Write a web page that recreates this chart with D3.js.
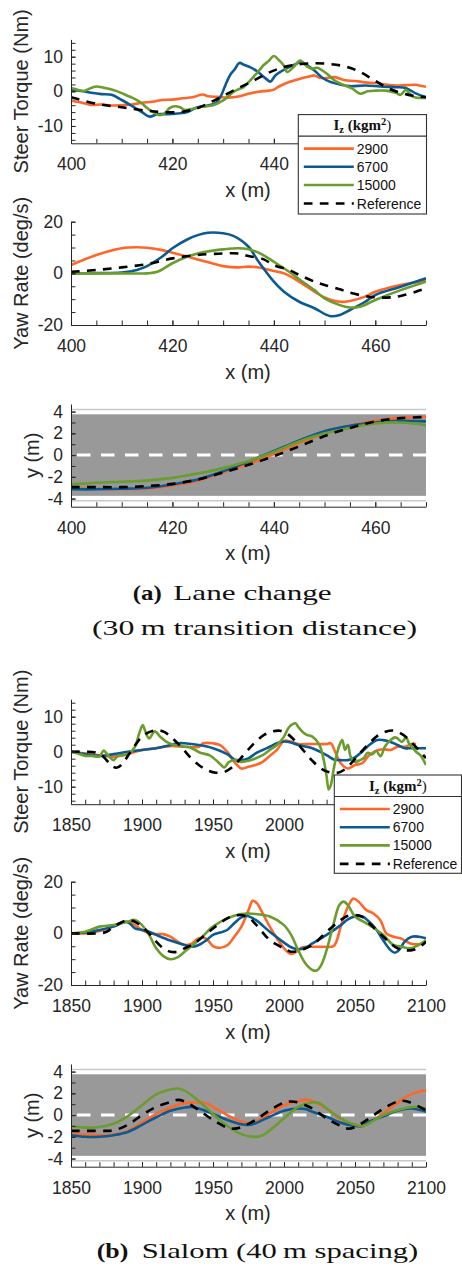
<!DOCTYPE html>
<html><head><meta charset="utf-8">
<script src="https://cdn.jsdelivr.net/npm/d3@7"></script>
<style>
html,body{margin:0;padding:0;background:#fff;}
svg{display:block;}
</style></head><body>
<script>
// ---------- Lane change (x = 400..470 m) ----------
const lcTorque2900 = [[400,-2.7],[402,-3.2],[404,-3.9],[406,-3.8],[408,-4.1],[410,-4.0],[412,-3.8],[414,-3.3],[416,-3.0],[418,-2.5],[420,-2.4],[422,-2.0],[424,-1.7],[426,-0.9],[427,-1.4],[429,-1.6],[431,-1.8],[433,-1.5],[435,-0.7],[437,-0.1],[439,0.2],[440,0.5],[441,1.4],[443,2.7],[445,3.6],[447,4.3],[448,4.6],[449,3.9],[450,3.8],[452,4.1],[454,3.2],[456,3.0],[458,2.6],[460,2.4],[462,2.0],[464,1.7],[466,1.8],[468,1.9],[469,1.6],[470,1.3]];
const lcTorque6700 = [[400,0.3],[402,0.1],[404,-0.4],[406,-0.8],[408,-1.0],[410,-2.5],[412,-4.2],[414,-6.0],[415.5,-7.3],[417,-6.6],[419,-6.6],[421,-6.4],[423,-6.0],[424,-5.2],[425,-4.6],[427,-4.1],[428.5,-3.4],[429.5,-1.5],[430.5,2.0],[431.5,5.0],[432.3,6.4],[433.2,8.2],[434.2,7.6],[435.3,7.0],[436.5,6.0],[437.5,4.8],[438.5,3.6],[439.3,2.8],[440.3,4.6],[441.5,5.8],[443,7.0],[444.5,8.0],[445.2,8.5],[446.5,7.6],[448,6.0],[449.5,4.0],[451,2.8],[453,2.0],[455,1.5],[458,1.7],[461,1.4],[464,1.2],[466,1.0],[468,-0.6],[470,-1.7]];
const lcTorque15000 = [[400,1.0],[401,0.6],[402.5,0.1],[404,1.0],[405,1.4],[406.5,1.0],[408,0.5],[410,-0.5],[411,-1.2],[412,-1.8],[413,-2.5],[414,-3.5],[415,-4.8],[416,-5.8],[417.5,-6.9],[418.5,-6.3],[419.5,-4.8],[420.5,-4.3],[421.5,-4.6],[422.5,-5.4],[424,-5.0],[426,-4.4],[428,-4.0],[430,-2.6],[431,-1.5],[432,-0.2],[433,0.6],[434,1.2],[435,2.6],[436,4.2],[437,5.8],[438,7.6],[439,8.8],[440,10.2],[441,9.0],[442,7.4],[442.6,5.6],[444,7.2],[445.2,8.9],[446.5,7.2],[447.5,6.5],[448.5,6.8],[450,5.6],[451,4.4],[452,3.1],[454,1.7],[455.5,0.8],[457,-0.7],[458.5,0.0],[460,0.2],[462,0.2],[464,-0.4],[465,-1.0],[466,0.4],[467.5,-1.6],[470,-1.9]];
const lcTorqueRef = [[400,-1.7],[405,-3.6],[410,-4.6],[415,-5.6],[418,-6.0],[422,-5.9],[425,-4.8],[428,-2.8],[432,0.2],[436,3.1],[439,5.4],[442,7.0],[445,7.8],[448,8.1],[451,7.9],[454,7.2],[457,5.6],[460,3.0],[463,0.6],[466,-0.8],[468,-1.4],[470,-1.7]];

const lcYaw2900 = [[400,3.2],[405,7.1],[410,9.7],[413,10.1],[415,9.9],[418,9.0],[420,8.0],[425,5.4],[430,2.8],[433,2.3],[435,2.6],[437,2.3],[440,0.9],[442,0.0],[445,-3.2],[448,-7.1],[450,-9.3],[453,-11.0],[455,-10.7],[458,-9.0],[460,-7.1],[465,-4.5],[470,-2.8]];
const lcYaw6700 = [[400,0],[405,0.1],[410,0.3],[413,1.3],[415,2.8],[418,6.5],[420,9.7],[423,13.2],[425,14.8],[427,15.7],[430,15.5],[432,14.5],[435,10.3],[437,4.5],[440,-3.2],[442,-7.1],[445,-11.0],[448,-13.5],[451,-16.5],[453,-16.1],[455,-14.2],[458,-11.0],[460,-8.4],[465,-5.2],[470,-1.9]];
const lcYaw15000 = [[400,0],[405,0],[410,0],[415,0],[417,0.6],[420,3.9],[423,6.5],[425,7.7],[428,8.8],[430,9.3],[433,9.7],[435,9.3],[437,8.0],[440,4.5],[443,0.6],[445,-2.3],[448,-6.5],[450,-9.7],[453,-12.3],[455,-13.2],[457,-12.9],[460,-10.3],[465,-6.5],[470,-3.2]];
const lcYawRef = [[400,0.6],[405,1.3],[410,2.3],[415,3.6],[420,5.8],[425,7.1],[430,7.7],[433,7.7],[435,6.7],[438,5.4],[440,3.2],[443,1.3],[445,-0.6],[448,-3.2],[450,-4.5],[453,-6.2],[455,-7.5],[458,-8.8],[460,-9.3],[463,-9.3],[465,-8.8],[468,-7.1],[470,-5.8]];

const lcY2900 = [[400,-3.0],[405,-3.1],[410,-3.15],[415,-3.1],[420,-2.8],[425,-2.35],[430,-1.6],[435,-0.85],[440,0.1],[445,1.1],[450,2.0],[455,2.7],[460,3.15],[465,3.45],[470,3.5]];
const lcY6700 = [[400,-3.15],[405,-3.15],[410,-3.1],[415,-3.0],[420,-2.7],[425,-2.25],[430,-1.5],[435,-0.6],[440,0.37],[445,1.35],[450,2.2],[455,2.7],[460,3.0],[465,3.15],[470,3.1]];
const lcY15000 = [[400,-2.7],[405,-2.55],[410,-2.45],[415,-2.35],[420,-2.1],[425,-1.7],[430,-1.2],[435,-0.55],[440,0.3],[445,1.25],[450,2.0],[455,2.5],[460,2.9],[465,3.0],[470,2.75]];
const lcYRef = [[400,-2.95],[405,-2.95],[410,-2.95],[415,-2.85],[420,-2.65],[425,-2.25],[430,-1.6],[435,-0.9],[440,-0.1],[445,0.8],[450,1.75],[455,2.5],[460,3.1],[465,3.4],[470,3.5]];

// ---------- Slalom (x = 1850..2100 m) ----------
const ssTorque2900 = [[1850,0],[1860,-0.5],[1870,-1.0],[1880,-1.4],[1890,-0.7],[1900,0.5],[1910,1.0],[1920,1.6],[1930,1.4],[1940,1.4],[1943,2.4],[1950,2.4],[1955,1.9],[1960,0],[1965,-2.9],[1970,-4.8],[1975,-4.3],[1980,-3.8],[1985,-2.9],[1990,-1.2],[1995,0.5],[2000,3.1],[2005,2.9],[2010,2.2],[2020,2.2],[2030,2.2],[2033,2.4],[2036,0],[2040,-3.3],[2045,-4.8],[2050,-3.8],[2055,-3.3],[2060,-1.0],[2065,0.3],[2070,0.7],[2075,0.5],[2080,1.4],[2085,1.4],[2090,2.2],[2093,2.2]];
const ssTorque6700 = [[1850,0],[1860,-0.7],[1870,-1.2],[1875,-1.0],[1880,-0.7],[1890,0],[1900,0.5],[1910,1.0],[1920,1.9],[1925,2.4],[1930,2.4],[1940,1.9],[1950,1.0],[1960,-0.7],[1965,-2.2],[1970,-2.4],[1975,-1.9],[1980,-0.5],[1985,0.5],[1990,1.4],[1995,2.4],[2000,2.9],[2005,2.6],[2010,1.9],[2020,1.0],[2030,-1.0],[2035,-2.2],[2040,-2.4],[2045,-2.4],[2050,-1.6],[2055,0],[2060,1.9],[2065,3.3],[2070,3.3],[2075,2.8],[2080,1.9],[2085,1.0],[2090,1.0],[2100,1.0]];
const ssTorque15000 = [[1850,0],[1855,-0.5],[1860,-1.2],[1865,-1.2],[1870,-1.4],[1873,0.3],[1876,-1.0],[1880,-2.4],[1883,-1.2],[1885,-1.0],[1890,-0.7],[1895,1.4],[1898,5.2],[1900.5,7.6],[1902,6.2],[1905,3.8],[1909,5.8],[1913,4.2],[1917,2.9],[1922,2.0],[1929,1.5],[1934,1.2],[1941,-0.3],[1948,-1.1],[1955,-3.5],[1958,-4.5],[1961,-3.0],[1965,-2.4],[1970,-2.9],[1975,-2.6],[1980,-1.9],[1985,-1.0],[1990,0.5],[1995,1.9],[2000,4.3],[2003,6.7],[2005,7.6],[2008,8.1],[2010,7.1],[2013,5.7],[2016,4.8],[2020,4.3],[2025,1.9],[2028,-2.4],[2030,-7.0],[2031.5,-10.8],[2033,-9.5],[2035,-5.0],[2037,-1.0],[2039,1.8],[2041,3.3],[2043,0.5],[2045,2.0],[2047,-1.5],[2050,-2.9],[2053,-2.5],[2056,-1.9],[2059,-0.3],[2062,-0.8],[2065,0.2],[2068,-1.3],[2071,1.4],[2075,3.3],[2078,4.1],[2080,3.8],[2083,2.8],[2086,4.1],[2088,2.4],[2090,1.4],[2093,0],[2096,-1.0],[2100,-3.8]];
const ssTorqueRef = [[1850,0],[1860,0],[1867,-0.2],[1873,-1.5],[1878,-3.8],[1882,-4.6],[1886,-3.6],[1890,-1.2],[1895,1.8],[1900,4.3],[1905,5.6],[1911,6.2],[1916,5.6],[1922,3.6],[1928,1.2],[1934,-1.6],[1940,-3.8],[1946,-5.3],[1952,-6.0],[1958,-5.8],[1963,-4.6],[1968,-2.6],[1974,0.2],[1980,2.8],[1986,4.8],[1992,5.8],[1997,6.0],[2002,5.2],[2008,3.0],[2014,0.2],[2020,-2.6],[2026,-4.8],[2032,-5.9],[2038,-6.0],[2043,-5.0],[2048,-3.0],[2054,-0.2],[2060,2.4],[2066,4.6],[2072,5.8],[2078,6.0],[2084,4.8],[2090,2.6],[2095,0.4],[2100,-1.8]];

const ssYaw2900 = [[1850,0],[1860,0],[1870,0.9],[1875,1.9],[1880,2.8],[1885,3.9],[1890,4.5],[1895,3.2],[1900,1.3],[1905,0],[1910,-0.3],[1915,-0.3],[1920,-1.3],[1925,-3.2],[1930,-4.5],[1935,-4.0],[1940,-1.9],[1945,-2.0],[1950,-4.9],[1955,-5.6],[1960,-4.6],[1965,-1.3],[1970,2.6],[1975,9.0],[1978,12.6],[1981,11.6],[1985,7.7],[1990,2.6],[1995,-1.9],[2000,-5.8],[2005,-8.0],[2009,-7.0],[2013,-5.4],[2020,-5.2],[2028,-5.2],[2035,-4.9],[2040,2.6],[2045,10.3],[2049,13.5],[2053,12.0],[2058,9.0],[2063,7.7],[2068,5.0],[2072,0.0],[2077,-1.3],[2082,-1.9],[2089,-3.9],[2095,-4.2],[2100,-3.2]];
const ssYaw6700 = [[1850,0],[1860,0.3],[1870,1.3],[1880,2.6],[1885,3.9],[1888,4.5],[1891,4.0],[1895,1.9],[1900,1.3],[1905,0.6],[1910,-0.6],[1920,-2.8],[1930,-4.5],[1935,-5.2],[1940,-4.5],[1945,-2.8],[1950,-0.6],[1955,0.3],[1960,1.3],[1965,3.9],[1970,6.2],[1974,6.7],[1980,5.2],[1990,0.6],[2000,-3.6],[2005,-5.4],[2010,-6.2],[2015,-5.6],[2020,-3.9],[2030,-0.6],[2040,3.2],[2045,5.4],[2050,6.5],[2055,6.5],[2060,4.5],[2065,1.5],[2070,-2.8],[2075,-6.5],[2078,-7.5],[2081,-6.5],[2085,-3.2],[2090,-1.3],[2095,-1.3],[2100,-1.9]];
const ssYaw15000 = [[1850,0],[1860,0.6],[1870,2.6],[1880,3.2],[1890,4.5],[1895,5.2],[1900,3.2],[1905,-0.6],[1910,-5.8],[1915,-8.8],[1920,-10.0],[1925,-9.3],[1930,-7.1],[1940,-2.6],[1950,2.6],[1960,5.8],[1970,7.5],[1975,7.7],[1980,7.5],[1990,6.5],[2000,3.2],[2005,-0.6],[2010,-6.5],[2015,-11.6],[2020,-14.2],[2023,-14.4],[2026,-12.5],[2030,-6.5],[2035,3.9],[2039,11.0],[2042,12.3],[2045,11.0],[2050,6.5],[2058,3.9],[2070,-0.6],[2077,-4.5],[2083,-5.2],[2089,-5.8],[2095,-4.5],[2100,-2.6]];
const ssYawRef = [[1850,0],[1870,0],[1875,0.6],[1880,2.6],[1885,4.1],[1890,5.2],[1895,4.5],[1900,2.6],[1905,0],[1910,-3.2],[1915,-5.8],[1920,-7.1],[1925,-7.1],[1930,-5.8],[1935,-4.5],[1940,-2.6],[1950,1.9],[1960,5.8],[1965,6.8],[1970,7.1],[1975,6.1],[1980,3.6],[1990,-2.6],[2000,-5.8],[2005,-7.1],[2010,-6.8],[2020,-4.5],[2030,0.6],[2040,5.2],[2045,6.8],[2050,7.1],[2055,6.5],[2060,3.9],[2070,-1.3],[2075,-3.9],[2080,-5.8],[2085,-6.5],[2090,-6.5],[2095,-5.5],[2100,-3.2]];

const ssY2900 = [[1850,-1.75],[1860,-1.8],[1870,-1.85],[1880,-1.8],[1890,-1.45],[1900,-0.7],[1910,0.1],[1920,0.7],[1930,1.1],[1940,1.15],[1945,1.1],[1950,0.75],[1960,0],[1970,-0.6],[1975,-0.75],[1980,-0.6],[1990,0.15],[2000,0.9],[2010,1.3],[2015,1.4],[2020,1.3],[2030,0.6],[2040,-0.4],[2050,-0.9],[2055,-1.05],[2060,-0.7],[2070,0.15],[2080,1.15],[2090,1.95],[2100,2.3]];
const ssY6700 = [[1850,-1.85],[1860,-2.0],[1870,-2.0],[1880,-1.85],[1890,-1.55],[1900,-0.9],[1910,-0.2],[1920,0.4],[1930,0.7],[1935,0.75],[1940,0.6],[1950,0.1],[1960,-0.45],[1970,-0.85],[1975,-0.9],[1980,-0.75],[1990,-0.15],[2000,0.4],[2010,0.6],[2015,0.55],[2020,0.3],[2030,-0.15],[2040,-0.7],[2050,-1.0],[2055,-1.0],[2060,-0.6],[2070,-0.1],[2080,0.4],[2090,0.6],[2100,0.3]];
const ssY15000 = [[1850,-1.0],[1860,-1.15],[1870,-1.1],[1880,-0.8],[1890,-0.1],[1900,0.9],[1910,1.9],[1920,2.35],[1925,2.45],[1930,2.25],[1940,1.3],[1950,0.1],[1960,-1.0],[1970,-1.75],[1978,-2.0],[1985,-1.85],[1990,-1.4],[2000,-0.3],[2010,0.75],[2020,1.15],[2025,1.1],[2030,0.6],[2040,-0.3],[2050,-0.9],[2055,-1.0],[2060,-0.75],[2070,0],[2080,0.45],[2090,0.75],[2095,0.75],[2100,0.6]];
const ssYRef = [[1850,-1.45],[1870,-1.45],[1880,-1.4],[1890,-0.9],[1900,0],[1910,0.75],[1920,1.2],[1925,1.4],[1930,1.25],[1940,0.45],[1950,-0.45],[1960,-1.15],[1965,-1.25],[1970,-1.1],[1980,-0.45],[1990,0.45],[2000,1.15],[2005,1.25],[2010,1.15],[2020,0.6],[2030,-0.3],[2040,-1.0],[2045,-1.25],[2050,-1.1],[2060,-0.3],[2070,0.6],[2080,1.25],[2085,1.3],[2090,1.1],[2100,0.45]];

// ---------- Labels and ticks ----------
const legendTitle = ["I", "z", " (kgm", "2", ")"];
const seriesNames = ["2900", "6700", "15000", "Reference"];
const seriesColors = ["#FF6628", "#0B5A92", "#6A9C2E", "#000000"];
const lcXTicks = [400, 420, 440, 460];
const ssXTicks = [1850, 1900, 1950, 2000, 2050, 2100];
const torqueTicks = [-10, 0, 10];
const yawTicks = [-20, 0, 20];
const laneTicks = [-4, -2, 0, 2, 4];

const SANS = '"Liberation Sans", Arial, Helvetica, sans-serif';
const SERIF = '"Liberation Serif", "Times New Roman", serif';
const AXIS = "#262626";
const REF_DASH = "8.7,7.3";
const X0 = 71, X1 = 426;

const svg = d3.select("body").append("svg")
  .attr("width", 462).attr("height", 1268)
  .style("font-family", SANS);

let clipCount = 0;
function rangeStep(a, b, s) { return d3.range(a, b + s / 2, s); }

function drawPanel(o) {
  const x = d3.scaleLinear().domain(o.xDomain).range([X0, X1]);
  const y = d3.scaleLinear().domain(o.yDomain).range([o.bottom, o.top]);
  const g = svg.append("g");
  const id = "plotclip" + (clipCount++);
  g.append("clipPath").attr("id", id).append("rect")
    .attr("x", X0).attr("y", o.top).attr("width", X1 - X0).attr("height", o.bottom - o.top);
  const plot = g.append("g").attr("clip-path", `url(#${id})`);

  if (o.road) {
    // road surface, edge markings and dashed centre line
    plot.append("rect").attr("x", X0).attr("width", X1 - X0)
      .attr("y", y(3.75)).attr("height", y(-3.75) - y(3.75)).attr("fill", "#999999");
    [4.2, -4.2].forEach(v => plot.append("line").attr("x1", X0).attr("x2", X1)
      .attr("y1", y(v)).attr("y2", y(v)).attr("stroke", "#c9c9c9").attr("stroke-width", 1.6));
    [3.93, -3.93].forEach(v => plot.append("line").attr("x1", X0).attr("x2", X1)
      .attr("y1", y(v)).attr("y2", y(v)).attr("stroke", "#ffffff").attr("stroke-width", 2));
    plot.append("line").attr("x1", X0).attr("x2", X1).attr("y1", y(0)).attr("y2", y(0))
      .attr("stroke", "#ffffff").attr("stroke-width", 3)
      .attr("stroke-dasharray", "13.5,10.5").attr("stroke-dashoffset", 18);
  }

  const line = d3.line().x(d => x(d[0])).y(d => y(d[1])).curve(d3.curveCatmullRom.alpha(0.5));
  o.series.forEach((data, i) => {
    plot.append("path").attr("d", line(data)).attr("fill", "none")
      .attr("stroke", seriesColors[i]).attr("stroke-width", 2.6)
      .attr("stroke-linejoin", "round")
      .attr("stroke-dasharray", i === 3 ? REF_DASH : null);
  });

  // labels hidden behind a legend box are left blank
  const hidden = o.hiddenXLabels || [];
  const fmtX = d => hidden.includes(d) ? "" : String(d);
  const fmtY = d => String(d);
  // minor ticks
  g.append("g").attr("transform", `translate(${X0},0)`)
    .call(d3.axisLeft(y).tickValues(o.yMinor).tickSize(-4.5).tickFormat(() => ""))
    .call(a => a.select(".domain").remove());
  g.append("g").attr("transform", `translate(0,${o.bottom})`)
    .call(d3.axisBottom(x).tickValues(o.xMinor).tickSize(-4.5).tickFormat(() => ""))
    .call(a => a.select(".domain").remove());
  // major axes
  g.append("g").attr("transform", `translate(${X0},0)`)
    .call(d3.axisLeft(y).tickValues(o.yTicks).tickSize(-4.5).tickSizeOuter(0).tickPadding(8).tickFormat(fmtY));
  g.append("g").attr("transform", `translate(0,${o.bottom})`)
    .call(d3.axisBottom(x).tickValues(o.xTicks).tickSize(-4.5).tickSizeOuter(0).tickPadding(14.6).tickFormat(fmtX));
  g.selectAll(".domain, .tick line").attr("stroke", AXIS).attr("stroke-width", 1);
  g.selectAll(".tick text").attr("fill", AXIS).style("font-size", "17.5px").style("font-family", SANS);

  g.append("text").attr("transform", `translate(${o.ylabelX},${(o.top + o.bottom) / 2}) rotate(-90)`)
    .attr("text-anchor", "middle").attr("dominant-baseline", "central")
    .attr("fill", AXIS).style("font-size", "20px").text(o.ylabel);
  g.append("text").attr("x", 248).attr("y", o.bottom + 53.5)
    .attr("text-anchor", "middle").attr("fill", AXIS).style("font-size", "20px").text("x (m)");
}

function drawLegend(left, top, right, bottom) {
  const g = svg.append("g");
  g.append("rect").attr("x", left).attr("y", top).attr("width", right - left).attr("height", bottom - top)
    .attr("fill", "#fff").attr("stroke", "#333").attr("stroke-width", 1.1);
  g.append("line").attr("x1", left).attr("x2", right).attr("y1", top + 21.5).attr("y2", top + 21.5)
    .attr("stroke", "#333").attr("stroke-width", 1.1);
  const t = g.append("text").attr("x", (left + right) / 2).attr("y", top + 15.5)
    .attr("text-anchor", "middle").attr("fill", "#111").style("font-family", SERIF).style("font-size", "15px");
  t.append("tspan").style("font-weight", "bold").text(legendTitle[0]);
  t.append("tspan").style("font-weight", "bold").style("font-size", "10.5px").attr("dy", 3).text(legendTitle[1]);
  t.append("tspan").attr("dy", -3).style("font-weight", "bold").text(legendTitle[2]);
  t.append("tspan").style("font-weight", "bold").style("font-size", "10.5px").attr("dy", -5).text(legendTitle[3]);
  t.append("tspan").attr("dy", 5).text(legendTitle[4]);
  const rowY = [34, 52.2, 70.4, 88.9];
  seriesNames.forEach((name, i) => {
    const yy = top + rowY[i];
    g.append("line").attr("x1", left + 5.5).attr("x2", left + 55.5).attr("y1", yy).attr("y2", yy)
      .attr("stroke", seriesColors[i]).attr("stroke-width", 2.6)
      .attr("stroke-dasharray", i === 3 ? REF_DASH : null);
    g.append("text").attr("x", left + 58.5).attr("y", yy).attr("dominant-baseline", "central")
      .attr("fill", "#111").style("font-size", "14px").text(name);
  });
}

function caption(parts, baseline) {
  parts.forEach(p => {
    svg.append("text").attr("x", p.x0).attr("y", baseline)
      .attr("textLength", p.x1 - p.x0).attr("lengthAdjust", "spacingAndGlyphs")
      .style("font-family", SERIF).style("font-size", "21px")
      .style("font-weight", p.bold ? "bold" : "normal").attr("fill", "#111").text(p.text);
  });
}

// (a) lane change
drawPanel({ xDomain: [400, 470], yDomain: [-15, 15], top: 39.4, bottom: 143.3,
  xTicks: lcXTicks, xMinor: rangeStep(400, 470, 5), yTicks: torqueTicks, yMinor: rangeStep(-14, 14, 2),
  hiddenXLabels: [460],
  ylabel: "Steer Torque (Nm)", ylabelX: 21,
  series: [lcTorque2900, lcTorque6700, lcTorque15000, lcTorqueRef] });
drawPanel({ xDomain: [400, 470], yDomain: [-20, 20], top: 221.7, bottom: 325,
  xTicks: lcXTicks, xMinor: rangeStep(400, 470, 5), yTicks: yawTicks, yMinor: rangeStep(-20, 20, 5),
  ylabel: "Yaw Rate (deg/s)", ylabelX: 21,
  series: [lcYaw2900, lcYaw6700, lcYaw15000, lcYawRef] });
drawPanel({ xDomain: [400, 470], yDomain: [-4.75, 4.7], top: 404, bottom: 506.7, road: true,
  xTicks: lcXTicks, xMinor: rangeStep(400, 470, 5), yTicks: laneTicks, yMinor: rangeStep(-4, 4, 1),
  ylabel: "y (m)", ylabelX: 32,
  series: [lcY2900, lcY6700, lcY15000, lcYRef] });
drawLegend(298.3, 114.6, 426.5, 214);
caption([{ x0: 132.7, x1: 161.7, text: "(a)", bold: true }, { x0: 173.3, x1: 331.7, text: "Lane change" }], 600);
caption([{ x0: 92, x1: 417, text: "(30\u2009m transition distance)" }], 635);

// (b) slalom
drawPanel({ xDomain: [1850, 2100], yDomain: [-15, 15], top: 699.2, bottom: 804.2,
  xTicks: ssXTicks, xMinor: rangeStep(1850, 2100, 10), yTicks: torqueTicks, yMinor: rangeStep(-14, 14, 2),
  hiddenXLabels: [2050, 2100],
  ylabel: "Steer Torque (Nm)", ylabelX: 21,
  series: [ssTorque2900, ssTorque6700, ssTorque15000, ssTorqueRef] });
drawPanel({ xDomain: [1850, 2100], yDomain: [-20, 20], top: 881.7, bottom: 985,
  xTicks: ssXTicks, xMinor: rangeStep(1850, 2100, 10), yTicks: yawTicks, yMinor: rangeStep(-20, 20, 5),
  ylabel: "Yaw Rate (deg/s)", ylabelX: 21,
  series: [ssYaw2900, ssYaw6700, ssYaw15000, ssYawRef] });
drawPanel({ xDomain: [1850, 2100], yDomain: [-4.75, 4.7], top: 1064, bottom: 1166.7, road: true,
  xTicks: ssXTicks, xMinor: rangeStep(1850, 2100, 10), yTicks: laneTicks, yMinor: rangeStep(-4, 4, 1),
  ylabel: "y (m)", ylabelX: 32,
  series: [ssY2900, ssY6700, ssY15000, ssYRef] });
drawLegend(334.3, 775, 461.5, 873.3);
caption([{ x0: 96.7, x1: 128.3, text: "(b)", bold: true }, { x0: 141.7, x1: 418.3, text: "Slalom (40\u2009m spacing)" }], 1258);
</script>
</body></html>
